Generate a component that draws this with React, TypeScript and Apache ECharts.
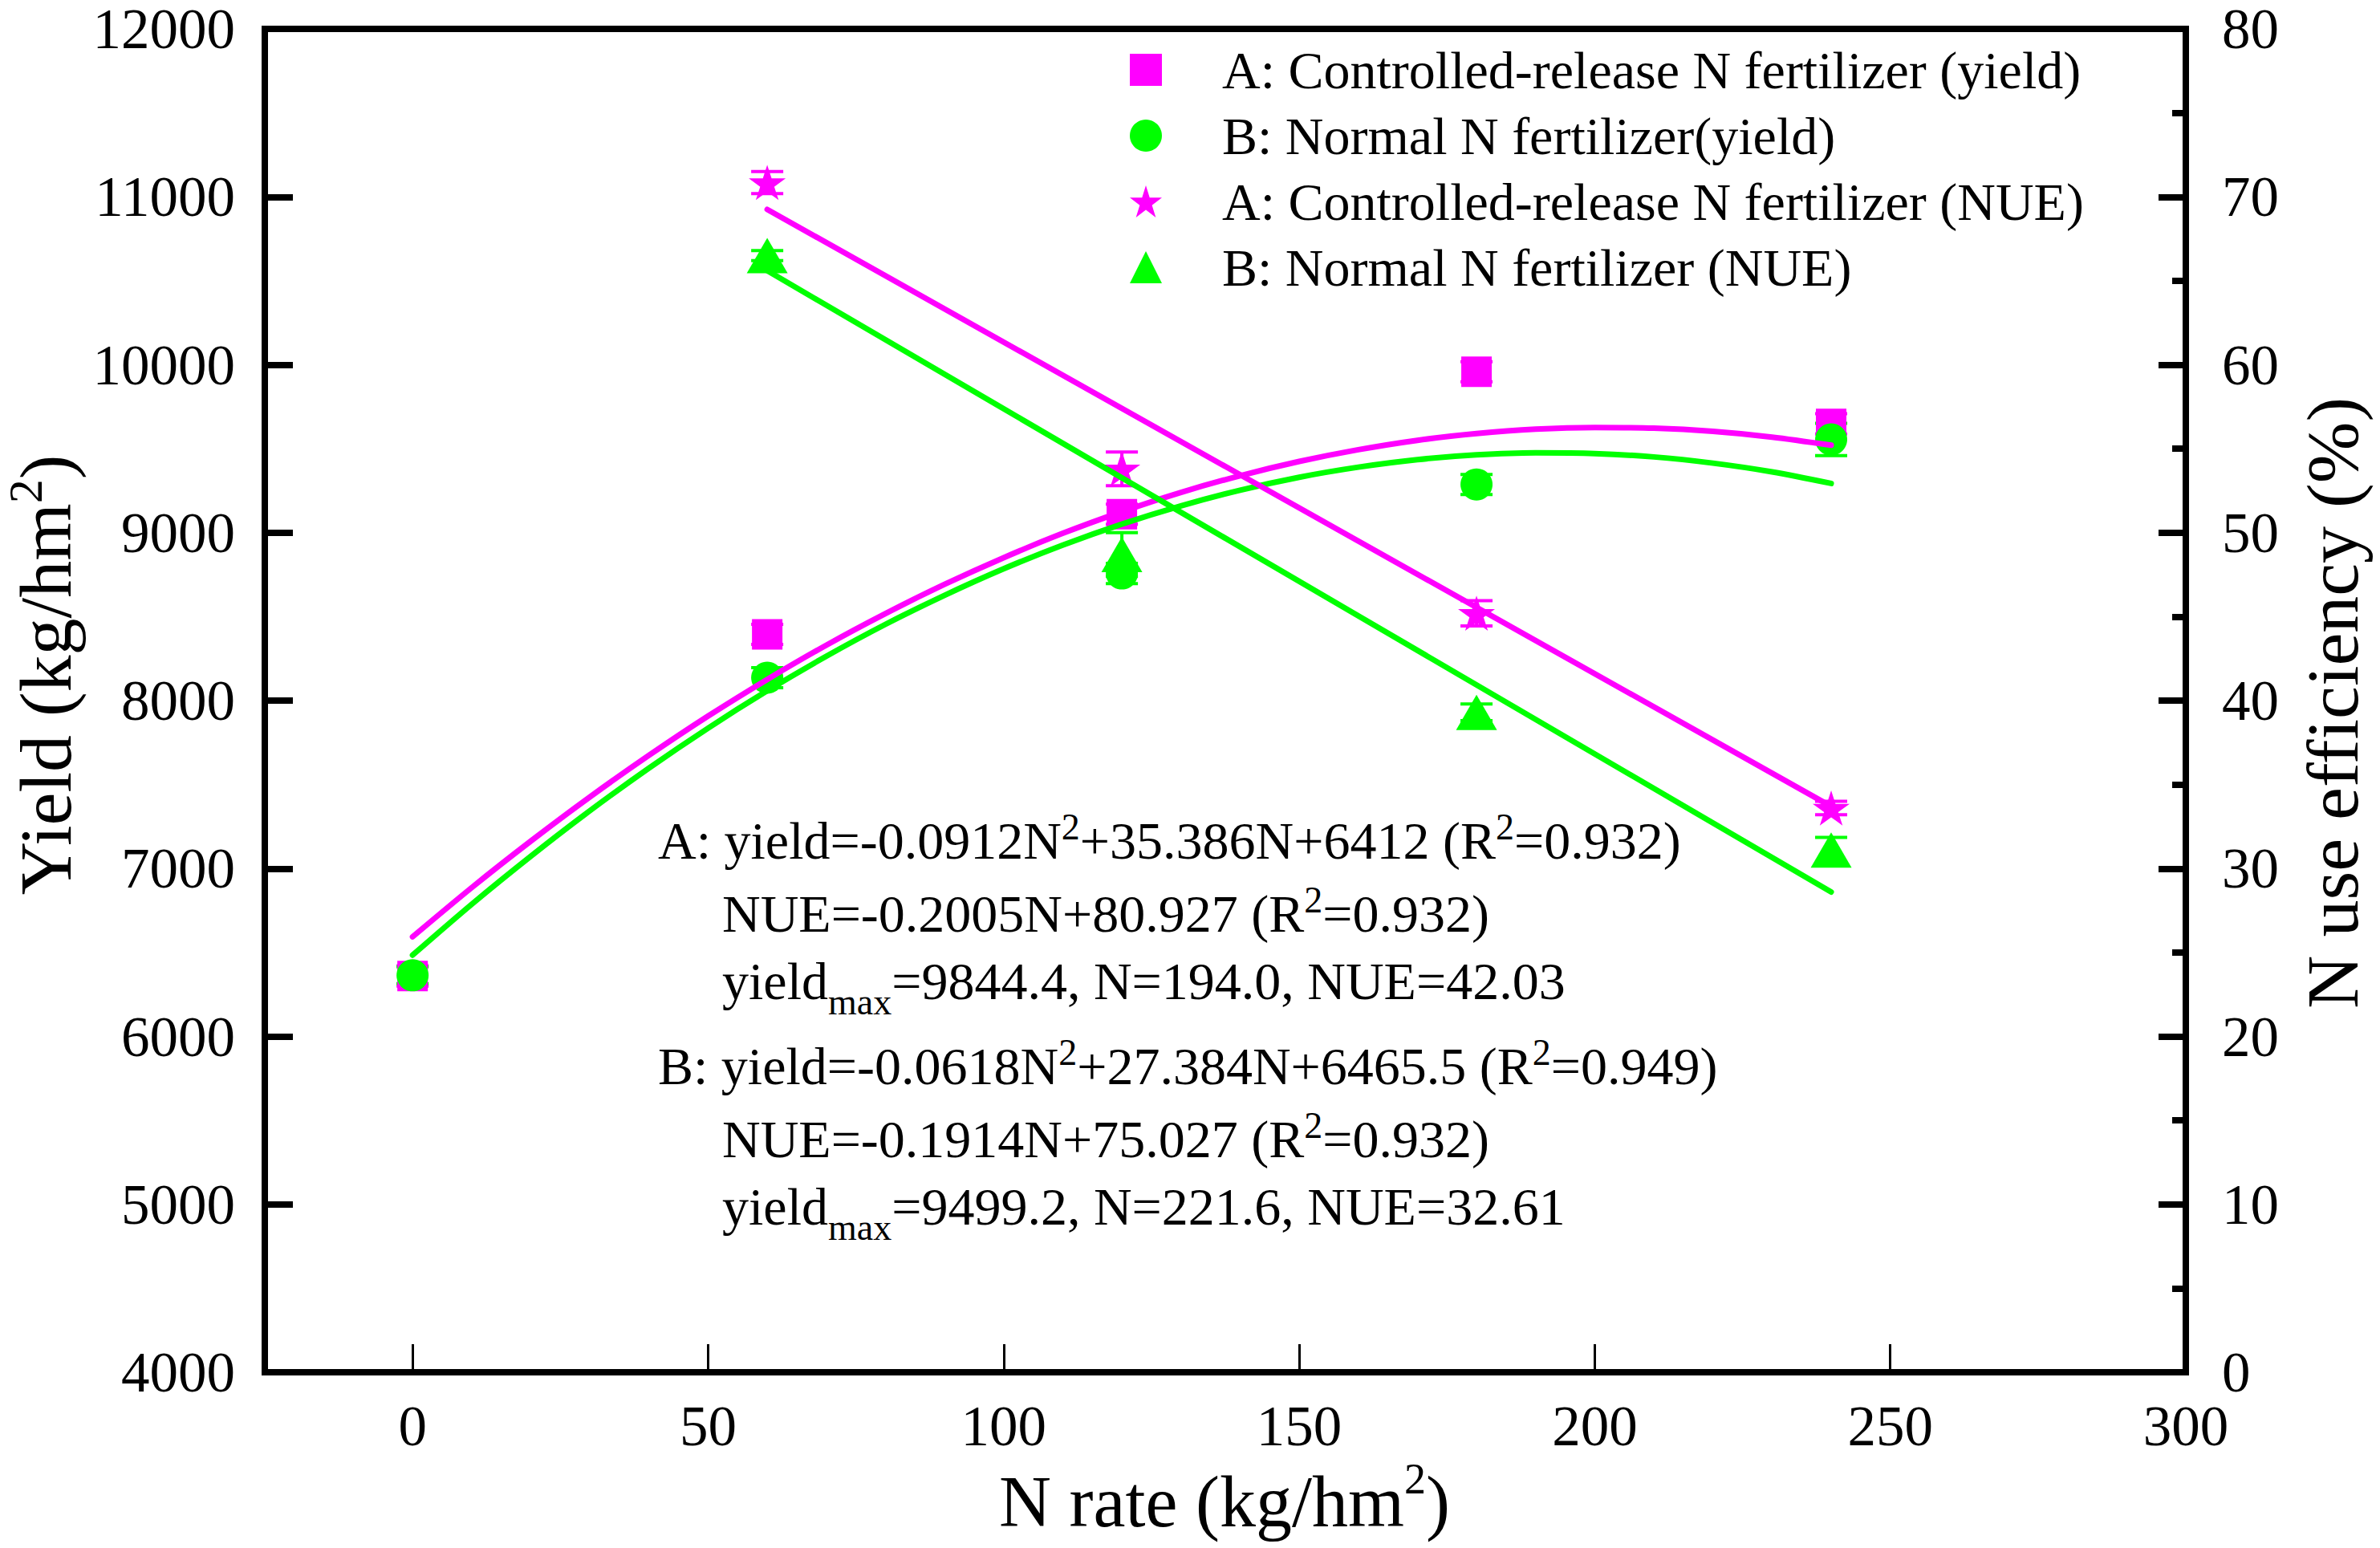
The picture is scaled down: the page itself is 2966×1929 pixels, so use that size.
import React, { useEffect, useRef } from 'react';
import * as echarts from 'echarts';

// ---------- data ----------
const nRates = [0, 60, 120, 180, 240];
const yieldA = [6360, 8394, 9110, 9958, 9648];
const yieldB = [6364, 8136, 8757, 9287, 9555];
const yieldAErr = [60, 60, 60, 60, 60];
const yieldBErr = [50, 60, 60, 60, 96];

const nueRates = [60, 120, 180, 240];
const nueA = [70.85, 53.8, 45.2, 33.6];
const nueB = [66.5, 48.7, 39.3, 31.1];
const nueAErr = [0.66, 1.0, 0.75, 0.4];
const nueBErr = [0.3, 1.3, 0.5, 0.75];

// fitted curves as drawn in the picture (read every 10 kg/hm2)
const fitN = [0, 10, 20, 30, 40, 50, 60, 70, 80, 90, 100, 110, 120, 130, 140, 150, 160, 170, 180, 190, 200, 210, 220, 230, 240];
const fitYieldA = [6593, 6886, 7163, 7426, 7674, 7908, 8126, 8330, 8518, 8692, 8851, 8996, 9125, 9240, 9339, 9424, 9494, 9550, 9590, 9616, 9626, 9622, 9603, 9569, 9521];
const fitYieldB = [6484, 6787, 7073, 7344, 7598, 7836, 8058, 8264, 8454, 8627, 8785, 8926, 9051, 9160, 9253, 9330, 9390, 9435, 9463, 9475, 9471, 9451, 9414, 9362, 9293];
const fitNueN = [60, 240];
const fitNueA = [69.25, 33.7];
const fitNueB = [65.6, 28.6];

const xTicks = [0, 50, 100, 150, 200, 250, 300];

const seriesNames = [
  'A: Controlled-release N fertilizer (yield)',
  'B: Normal N fertilizer(yield)',
  'A: Controlled-release N fertilizer (NUE)',
  'B: Normal N fertilizer (NUE)',
];

const annotationLines = [
  '{n|A: yield=-0.0912N}{sup|2}{n|+35.386N+6412 (R}{sup|2}{n|=0.932)}',
  '{n|NUE=-0.2005N+80.927 (R}{sup|2}{n|=0.932)}',
  '{n|yield}{sub|max}{n|=9844.4, N=194.0, NUE=42.03}',
  '{n|B: yield=-0.0618N}{sup|2}{n|+27.384N+6465.5 (R}{sup|2}{n|=0.949)}',
  '{n|NUE=-0.1914N+75.027 (R}{sup|2}{n|=0.932)}',
  '{n|yield}{sub|max}{n|=9499.2, N=221.6, NUE=32.61}',
];
const annotationX = [820, 900, 900, 820, 900, 900];
const annotationBaseline = [1069, 1160, 1244, 1350, 1441, 1525];

// ---------- styling ----------
const FONT = "'Liberation Serif', 'Times New Roman', serif";
const MAGENTA = '#FF00FF';
const GREEN = '#00FF00';
const STAR =
  'path://M50 0 L61.23 34.55 L97.55 34.55 L68.17 55.9 L79.39 90.45 L50 69.1 L20.61 90.45 L31.83 55.9 L2.45 34.55 L38.77 34.55 Z';

function errorSeries(xs: number[], ys: number[], errs: number[], color: string, yAxisIndex: number) {
  return {
    type: 'custom',
    coordinateSystem: 'cartesian2d',
    yAxisIndex,
    z: 2,
    silent: true,
    data: xs.map((x, i) => [x, ys[i], errs[i]]),
    encode: { x: 0, y: 1 },
    renderItem: (params: any, api: any) => {
      const x = api.value(0);
      const y = api.value(1);
      const e = api.value(2);
      const top = api.coord([x, y + e]);
      const bot = api.coord([x, y - e]);
      const hw = 20;
      const style = { stroke: color, lineWidth: 4 };
      return {
        type: 'group',
        children: [
          { type: 'line', shape: { x1: top[0], y1: top[1], x2: bot[0], y2: bot[1] }, style },
          { type: 'line', shape: { x1: top[0] - hw, y1: top[1], x2: top[0] + hw, y2: top[1] }, style },
          { type: 'line', shape: { x1: bot[0] - hw, y1: bot[1], x2: bot[0] + hw, y2: bot[1] }, style },
        ],
      };
    },
  };
}

function lineSeries(xs: number[], ys: number[], color: string, yAxisIndex: number, smooth: number | boolean) {
  return {
    type: 'line',
    yAxisIndex,
    z: 5,
    silent: true,
    showSymbol: false,
    symbol: 'none',
    smooth,
    data: xs.map((x, i) => [x, ys[i]]),
    lineStyle: { color, width: 7, cap: 'round' },
  };
}

export default function App() {
  const ref = useRef<HTMLDivElement>(null);

  useEffect(() => {
    document.body.style.margin = '0';
    if (!ref.current) return;
    const chart = echarts.init(ref.current, undefined, { renderer: 'svg' });

    const annoRich = {
      n: { fontSize: 66, fontFamily: FONT, fill: '#000', lineHeight: 80, verticalAlign: 'middle' },
      sup: { fontSize: 46, fontFamily: FONT, fill: '#000', lineHeight: 80, verticalAlign: 'top' },
      sub: { fontSize: 46, fontFamily: FONT, fill: '#000', lineHeight: 80, verticalAlign: 'top', padding: [43, 0, 0, 0] },
    };

    const graphics: any[] = annotationLines.map((t, i) => ({
      type: 'text',
      x: annotationX[i],
      y: annotationBaseline[i] - 62,
      silent: true,
      style: { text: t, align: 'left', verticalAlign: 'top', rich: annoRich },
    }));

    graphics.push({
      type: 'text',
      x: 57,
      y: 841,
      rotation: Math.PI / 2,
      silent: true,
      style: {
        text: '{n|Yield (kg/hm}{sup|2}{n|)}',
        align: 'center',
        verticalAlign: 'middle',
        rich: {
          n: { fontSize: 92, fontFamily: FONT, fill: '#000', lineHeight: 110, verticalAlign: 'middle' },
          sup: { fontSize: 60, fontFamily: FONT, fill: '#000', lineHeight: 110, verticalAlign: 'top' },
        },
      },
    });
    graphics.push({
      type: 'text',
      x: 1526,
      y: 1871,
      silent: true,
      style: {
        text: '{n|N rate (kg/hm}{sup|2}{n|)}',
        align: 'center',
        verticalAlign: 'middle',
        rich: {
          n: { fontSize: 90, fontFamily: FONT, fill: '#000', lineHeight: 110, verticalAlign: 'middle' },
          sup: { fontSize: 54, fontFamily: FONT, fill: '#000', lineHeight: 110, verticalAlign: 'top' },
        },
      },
    });
    graphics.push({
      type: 'text',
      x: 2907,
      y: 876,
      rotation: Math.PI / 2,
      silent: true,
      style: {
        text: 'N use efficiency (%)',
        fontSize: 92,
        fontFamily: FONT,
        fill: '#000',
        align: 'center',
        verticalAlign: 'middle',
      },
    });

    const axisLabelBase = {
      fontSize: 71,
      lineHeight: 56,
      fontFamily: FONT,
      color: '#000',
      formatter: (v: number) => String(v),
    };

    const option: any = {
      animation: false,
      backgroundColor: '#fff',
      grid: {
        left: 330,
        right: 242,
        top: 36,
        bottom: 219,
        show: true,
        borderColor: '#000',
        borderWidth: 8,
        backgroundColor: 'transparent',
      },
      legend: {
        data: seriesNames,
        orient: 'vertical',
        left: 1408,
        top: 54,
        padding: 0,
        itemWidth: 40,
        itemHeight: 40,
        itemGap: 16,
        selectedMode: false,
        symbolKeepAspect: false,
        formatter: (name: string) => `{t|${name}}`,
        textStyle: {
          fontSize: 66,
          fontFamily: FONT,
          color: '#000',
          rich: {
            t: { fontSize: 66, fontFamily: FONT, color: '#000', lineHeight: 40, padding: [0, 0, 0, 70] },
          },
        },
      },
      xAxis: {
        type: 'value',
        min: -25,
        max: 300,
        axisLine: { show: true, onZero: false, lineStyle: { color: '#000', width: 8 } },
        axisTick: { show: true, inside: true, length: 35, lineStyle: { color: '#000', width: 3 }, customValues: xTicks },
        axisLabel: { ...axisLabelBase, margin: 39, customValues: xTicks },
        splitLine: { show: false },
      },
      yAxis: [
        {
          type: 'value',
          position: 'left',
          min: 4000,
          max: 12000,
          interval: 1000,
          axisLine: { show: true, onZero: false, lineStyle: { color: '#000', width: 8 } },
          axisTick: { show: true, inside: true, length: 35, lineStyle: { color: '#000', width: 8 } },
          axisLabel: { ...axisLabelBase, margin: 37 },
          splitLine: { show: false },
        },
        {
          type: 'value',
          position: 'right',
          min: 0,
          max: 80,
          interval: 10,
          axisLine: { show: true, onZero: false, lineStyle: { color: '#000', width: 8 } },
          axisTick: { show: true, inside: true, length: 34, lineStyle: { color: '#000', width: 8 } },
          minorTick: { show: true, splitNumber: 2, length: 17, lineStyle: { color: '#000', width: 8 } },
          axisLabel: { ...axisLabelBase, margin: 45 },
          splitLine: { show: false },
        },
      ],
      graphic: graphics,
      series: [
        errorSeries(nRates, yieldA, yieldAErr, MAGENTA, 0),
        errorSeries(nRates, yieldB, yieldBErr, GREEN, 0),
        errorSeries(nueRates, nueA, nueAErr, MAGENTA, 1),
        errorSeries(nueRates, nueB, nueBErr, GREEN, 1),
        {
          name: seriesNames[0],
          type: 'scatter',
          yAxisIndex: 0,
          z: 3,
          symbol: 'rect',
          symbolSize: 38,
          itemStyle: { color: MAGENTA, opacity: 1 },
          data: nRates.map((x, i) => [x, yieldA[i]]),
        },
        {
          name: seriesNames[1],
          type: 'scatter',
          yAxisIndex: 0,
          z: 3,
          symbol: 'circle',
          symbolSize: 40,
          itemStyle: { color: GREEN, opacity: 1 },
          data: nRates.map((x, i) => [x, yieldB[i]]),
        },
        {
          name: seriesNames[2],
          type: 'scatter',
          yAxisIndex: 1,
          z: 3,
          symbol: STAR,
          symbolKeepAspect: true,
          symbolSize: 46,
          itemStyle: { color: MAGENTA, opacity: 1 },
          data: nueRates.map((x, i) => [x, nueA[i]]),
        },
        {
          name: seriesNames[3],
          type: 'scatter',
          yAxisIndex: 1,
          z: 3,
          symbol: 'triangle',
          symbolSize: [51, 44],
          itemStyle: { color: GREEN, opacity: 1 },
          data: nueRates.map((x, i) => [x, nueB[i]]),
        },
        lineSeries(fitN, fitYieldA, MAGENTA, 0, 0.3),
        lineSeries(fitN, fitYieldB, GREEN, 0, 0.3),
        lineSeries(fitNueN, fitNueA, MAGENTA, 1, false),
        lineSeries(fitNueN, fitNueB, GREEN, 1, false),
      ],
    };

    chart.setOption(option);
    return () => {
      chart.dispose();
    };
  }, []);

  return (
    <div
      ref={ref}
      style={{ position: 'absolute', left: 0, top: 0, width: 2966, height: 1929, background: '#fff' }}
    />
  );
}
